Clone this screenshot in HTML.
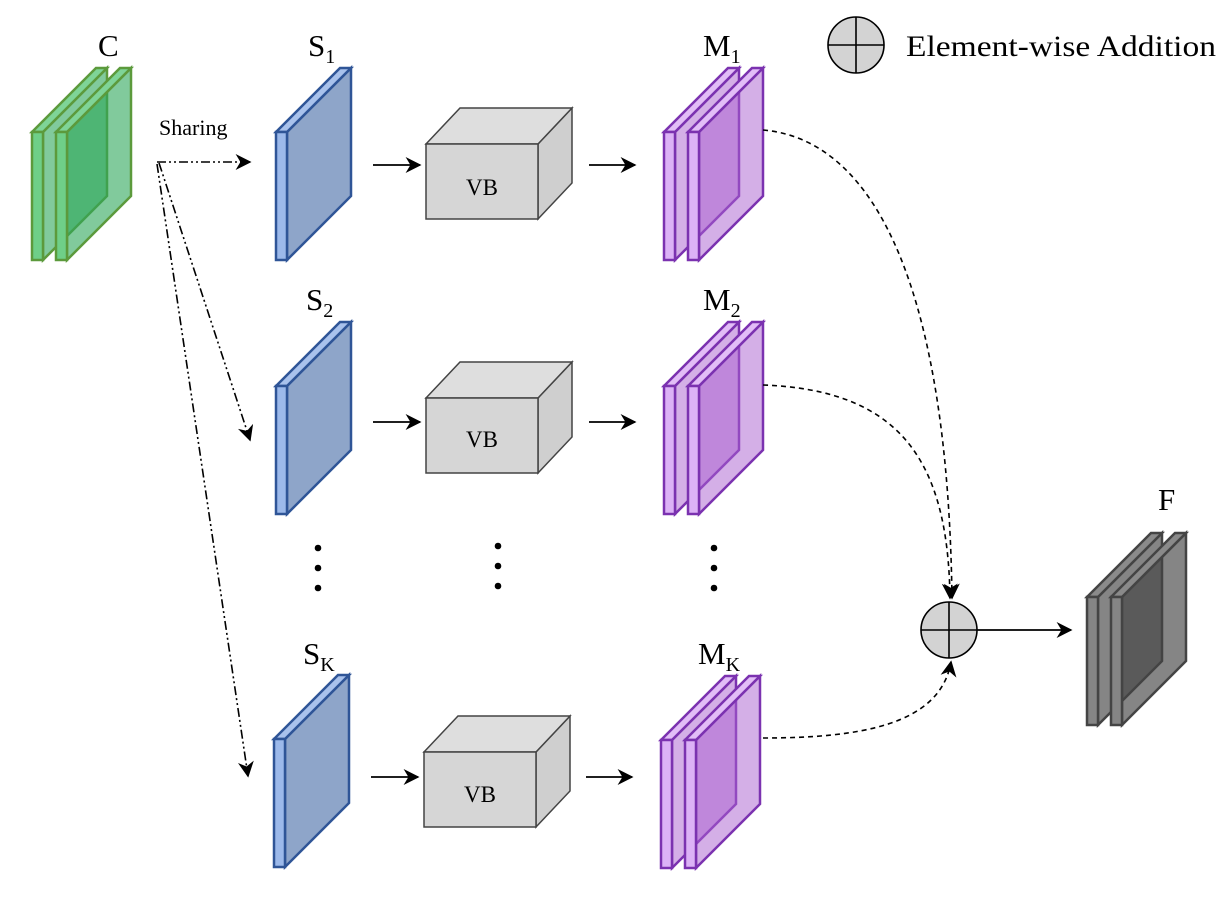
<!DOCTYPE html>
<html><head><meta charset="utf-8"><style>
html,body{margin:0;padding:0;background:#fff;}
svg{display:block;}
text{font-family:"Liberation Serif",serif;fill:#000;}
</style></head><body>
<svg width="1231" height="900" viewBox="0 0 1231 900" xmlns="http://www.w3.org/2000/svg">
<defs>
<marker id="ah2" viewBox="0 0 10 10" refX="9" refY="5" markerWidth="16" markerHeight="16" markerUnits="userSpaceOnUse" orient="auto">
<path d="M0,0 L10,5 L0,10 L3,5 z" fill="#000"/></marker>
<g id="gslab">
<polygon points="11,0 75,-64 75,64 11,128" fill="#2da75a" fill-opacity="0.6" stroke="#5c9a3c" stroke-width="2.5"/>
<polygon points="0,0 64,-64 75,-64 11,0" fill="#7fd497" stroke="#5c9a3c" stroke-width="2.5"/>
<rect x="0" y="0" width="11" height="128" fill="#6fcf88" stroke="#5c9a3c" stroke-width="2.5"/>
</g>
<g id="bslab">
<polygon points="11,0 75,-64 75,64 11,128" fill="#8ea5c9" stroke="#2f5597" stroke-width="2.5"/>
<polygon points="0,0 64,-64 75,-64 11,0" fill="#a9c2ec" stroke="#2f5597" stroke-width="2.5"/>
<rect x="0" y="0" width="11" height="128" fill="#9cb9ea" stroke="#2f5597" stroke-width="2.5"/>
</g>
<g id="pslab">
<polygon points="11,0 75,-64 75,64 11,128" fill="#a95fd0" fill-opacity="0.5" stroke="#7b32b0" stroke-width="2.5"/>
<polygon points="0,0 64,-64 75,-64 11,0" fill="#e2bdf7" stroke="#7b32b0" stroke-width="2.5"/>
<rect x="0" y="0" width="11" height="128" fill="#dcb2f6" stroke="#7b32b0" stroke-width="2.5"/>
</g>
<g id="fslab">
<polygon points="11,0 75,-64 75,64 11,128" fill="#444" fill-opacity="0.65" stroke="#444" stroke-width="2.5"/>
<polygon points="0,0 64,-64 75,-64 11,0" fill="#8a8a8a" stroke="#444" stroke-width="2.5"/>
<rect x="0" y="0" width="11" height="128" fill="#858585" stroke="#444" stroke-width="2.5"/>
</g>
<g id="vb">
<polygon points="112,0 146,-36 146,39 112,75" fill="#cfcfcf" stroke="#444" stroke-width="1.5"/>
<polygon points="0,0 34,-36 146,-36 112,0" fill="#dedede" stroke="#444" stroke-width="1.5"/>
<rect x="0" y="0" width="112" height="75" fill="#d6d6d6" stroke="#444" stroke-width="1.5"/>
</g>
</defs>

<use href="#gslab" x="32" y="132"/>
<use href="#gslab" x="56" y="132"/>
<text x="98" y="56" font-size="31">C</text>

<text x="159" y="135" font-size="22">Sharing</text>
<g stroke="#000" stroke-width="1.6" fill="none" stroke-dasharray="9 3 2 3 2 3">
<path d="M157,162 L250,162" marker-end="url(#ah2)"/>
<path d="M159,163 L250,440" marker-end="url(#ah2)"/>
<path d="M157,164 L248,776" marker-end="url(#ah2)"/>
</g>

<use href="#bslab" x="276" y="132"/>
<use href="#bslab" x="276" y="386"/>
<use href="#bslab" x="274" y="739"/>
<text x="308" y="56" font-size="31">S<tspan font-size="20" dy="7">1</tspan></text>
<text x="306" y="310" font-size="31">S<tspan font-size="20" dy="7">2</tspan></text>
<text x="303" y="664" font-size="31">S<tspan font-size="20" dy="7">K</tspan></text>

<g stroke="#000" stroke-width="1.8" fill="none">
<path d="M373,165 L420,165" marker-end="url(#ah2)"/>
<path d="M373,422 L420,422" marker-end="url(#ah2)"/>
<path d="M371,777 L418,777" marker-end="url(#ah2)"/>
<path d="M589,165 L635,165" marker-end="url(#ah2)"/>
<path d="M589,422 L635,422" marker-end="url(#ah2)"/>
<path d="M586,777 L632,777" marker-end="url(#ah2)"/>
</g>

<use href="#vb" x="426" y="144"/>
<use href="#vb" x="426" y="398"/>
<use href="#vb" x="424" y="752"/>
<text x="482" y="195" font-size="23" text-anchor="middle">VB</text>
<text x="482" y="447" font-size="23" text-anchor="middle">VB</text>
<text x="480" y="802" font-size="23" text-anchor="middle">VB</text>

<use href="#pslab" x="664" y="132"/>
<use href="#pslab" x="688" y="132"/>
<use href="#pslab" x="664" y="386"/>
<use href="#pslab" x="688" y="386"/>
<use href="#pslab" x="661" y="740"/>
<use href="#pslab" x="685" y="740"/>
<text x="703" y="56" font-size="31">M<tspan font-size="20" dy="7">1</tspan></text>
<text x="703" y="310" font-size="31">M<tspan font-size="20" dy="7">2</tspan></text>
<text x="698" y="664" font-size="31">M<tspan font-size="20" dy="7">K</tspan></text>

<g fill="#000">
<circle cx="318" cy="548" r="3.3"/><circle cx="318" cy="568" r="3.3"/><circle cx="318" cy="588" r="3.3"/>
<circle cx="498" cy="546" r="3.3"/><circle cx="498" cy="566" r="3.3"/><circle cx="498" cy="586" r="3.3"/>
<circle cx="714" cy="548" r="3.3"/><circle cx="714" cy="568" r="3.3"/><circle cx="714" cy="588" r="3.3"/>
</g>

<g stroke="#000" stroke-width="1.6" fill="none" stroke-dasharray="5 4">
<path d="M763,130 C880,140 948,300 952,598" marker-end="url(#ah2)"/>
<path d="M763,385 C900,390 948,460 950,598" marker-end="url(#ah2)"/>
<path d="M763,738 C860,738 940,725 951,662" marker-end="url(#ah2)"/>
</g>

<circle cx="949" cy="630" r="28" fill="#d3d3d3" stroke="#000" stroke-width="1.6"/>
<path d="M921,630 H977 M949,602 V658" stroke="#000" stroke-width="1.6"/>
<path d="M977,630 L1071,630" stroke="#000" stroke-width="1.8" marker-end="url(#ah2)"/>

<use href="#fslab" x="1087" y="597"/>
<use href="#fslab" x="1111" y="597"/>
<text x="1158" y="510" font-size="31">F</text>

<circle cx="856" cy="45" r="28" fill="#d3d3d3" stroke="#000" stroke-width="1.6"/>
<path d="M828,45 H884 M856,17 V73" stroke="#000" stroke-width="1.6"/>
<text x="906" y="56" font-size="30" textLength="310" lengthAdjust="spacingAndGlyphs">Element-wise Addition</text>
</svg>
</body></html>
